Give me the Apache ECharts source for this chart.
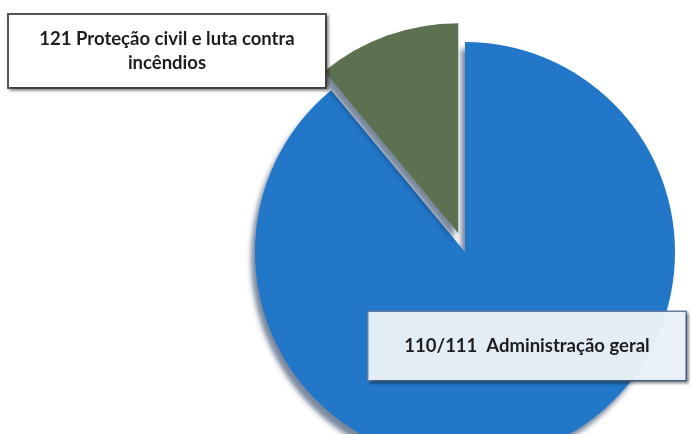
<!DOCTYPE html>
<html><head><meta charset="utf-8">
<script src="https://cdn.jsdelivr.net/npm/echarts@6/dist/echarts.min.js"></script>
<style>html,body{margin:0;padding:0;background:#fff}#c{width:691px;height:434px}</style>
</head><body><div id="c"></div>
<script>
const categories = ["110/111  Administração geral", "121 Proteção civil e luta contra\nincêndios"];
const values = [89, 11];
const colors = ["#2277c8", "#5c7150"];

const chart = echarts.init(document.getElementById('c'));
const labelBoxes = [
  {x: 527, y: 346, width: 297, height: 36, bg: 'rgba(236,244,251,0.96)', border: '#5f7fa6', pad: [16, 10], bw: 1.5},
  {x: 167, y: 51, width: 296, height: 48, bg: '#ffffff', border: '#55594f', pad: [12, 10], bw: 2}
];
const baseCenter = [465, 252];
const explodeIndex = 1;
const explode = 20;
// mid angle of the exploded slice (clockwise from 12 o'clock)
const total = values.reduce((a, b) => a + b, 0);
const before = values.slice(0, explodeIndex).reduce((a, b) => a + b, 0);
const mid = (before + values[explodeIndex] / 2) / total * 2 * Math.PI;
const explodedCenter = [baseCenter[0] + explode * Math.sin(mid), baseCenter[1] - explode * Math.cos(mid)];

function makeData(showIndex) {
  return categories.map((name, i) => {
    const on = (showIndex === 0) ? i !== explodeIndex : i === explodeIndex;
    const b = labelBoxes[i];
    return {
      name: name,
      value: values[i],
      itemStyle: on ? {color: colors[i]} : {color: 'rgba(0,0,0,0)', shadowColor: 'rgba(0,0,0,0)'},
      label: on ? {
        show: true,
        backgroundColor: b.bg,
        borderColor: b.border,
        borderWidth: b.bw,
        width: b.width,
        height: b.height,
        padding: b.pad,
        shadowColor: 'rgba(0,0,0,0.35)',
        shadowBlur: 3,
        shadowOffsetX: 2,
        shadowOffsetY: 2
      } : {show: false}
    };
  });
}

const common = {
  type: 'pie',
  radius: 210,
  startAngle: 90,
  clockwise: true,
  silent: true,
  itemStyle: {
    borderWidth: 0,
    shadowColor: 'rgba(15,40,80,0.55)',
    shadowBlur: 5,
    shadowOffsetX: -4,
    shadowOffsetY: 7
  },
  emphasis: {disabled: true},
  label: {
    position: 'inside',
    color: '#1e1e1e',
    fontFamily: 'Lato',
    fontWeight: 'bold',
    fontSize: 18.5,
    lineHeight: 24,
    align: 'center',
    verticalAlign: 'middle'
  },
  labelLine: {show: false},
  labelLayout: function (p) {
    const b = labelBoxes[p.dataIndex];
    return {x: b.x, y: b.y, align: 'center', verticalAlign: 'middle', hideOverlap: false};
  }
};

chart.setOption({
  animation: false,
  series: [
    Object.assign({}, common, {center: baseCenter, data: makeData(0), z: 2}),
    Object.assign({}, common, {center: explodedCenter, data: makeData(1), z: 3})
  ]
});
</script></body></html>
